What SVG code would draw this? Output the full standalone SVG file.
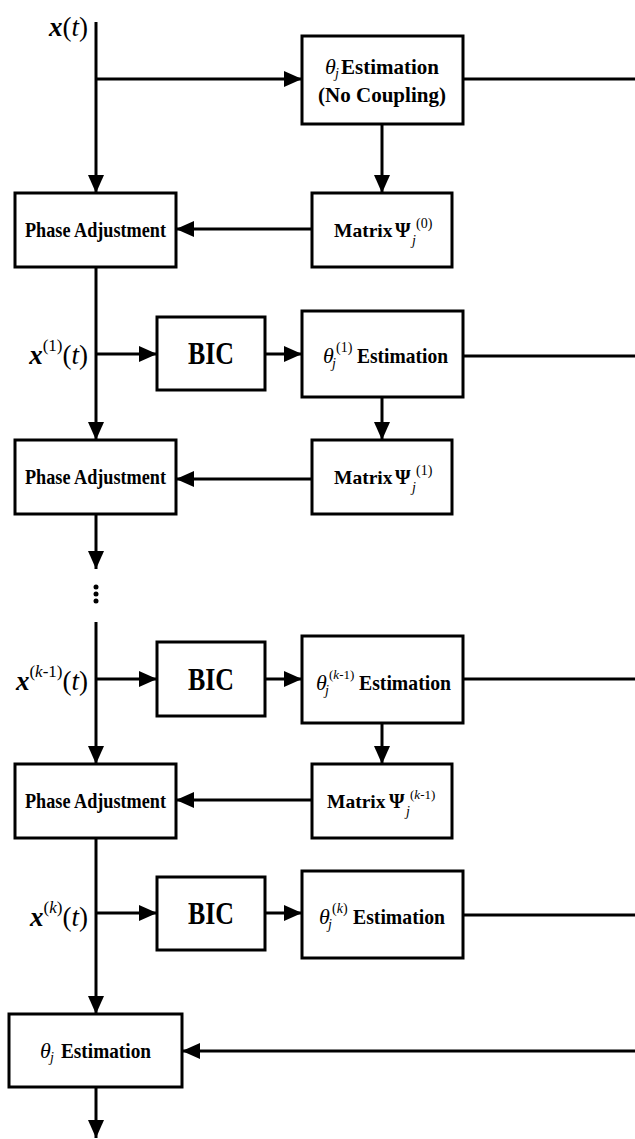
<svg xmlns="http://www.w3.org/2000/svg" width="635" height="1139" viewBox="0 0 635 1139">
<style>
.box{fill:#fff;stroke:#000;stroke-width:3}
.ln{fill:none;stroke:#000;stroke-width:3}
.b{font-weight:bold}
.i{font-style:italic}
.lbl{font-size:27px}
.sm{font-size:14px}
.xs{font-size:13px}
</style>
<defs>
<marker id="ah" markerUnits="userSpaceOnUse" markerWidth="18" markerHeight="16" refX="18" refY="8" orient="auto" viewBox="0 0 18 16">
<path d="M0,0 L18,8 L0,16 z" fill="#000"/>
</marker>
</defs>
<rect width="635" height="1139" fill="#fff"/>
<g id="connectors">
<path class="ln" d="M96,22 V193" marker-end="url(#ah)"/>
<path class="ln" d="M96,79 H302" marker-end="url(#ah)"/>
<path class="ln" d="M463,79 H635"/>
<path class="ln" d="M382,124 V193" marker-end="url(#ah)"/>
<path class="ln" d="M312,229 H176" marker-end="url(#ah)"/>
<path class="ln" d="M96,267 V440" marker-end="url(#ah)"/>
<path class="ln" d="M96,354 H157" marker-end="url(#ah)"/>
<path class="ln" d="M265,354 H302" marker-end="url(#ah)"/>
<path class="ln" d="M463,356 H635"/>
<path class="ln" d="M382,397 V440" marker-end="url(#ah)"/>
<path class="ln" d="M312,479 H176" marker-end="url(#ah)"/>
<path class="ln" d="M96,514 V569" marker-end="url(#ah)"/>
<circle cx="96" cy="587" r="2.5"/>
<circle cx="96" cy="594" r="2.5"/>
<circle cx="96" cy="601" r="2.5"/>
<path class="ln" d="M96,622 V764" marker-end="url(#ah)"/>
<path class="ln" d="M96,679 H157" marker-end="url(#ah)"/>
<path class="ln" d="M265,679 H302" marker-end="url(#ah)"/>
<path class="ln" d="M463,679 H635"/>
<path class="ln" d="M382,723 V764" marker-end="url(#ah)"/>
<path class="ln" d="M312,800 H176" marker-end="url(#ah)"/>
<path class="ln" d="M96,838 V1014" marker-end="url(#ah)"/>
<path class="ln" d="M96,913 H157" marker-end="url(#ah)"/>
<path class="ln" d="M265,913 H302" marker-end="url(#ah)"/>
<path class="ln" d="M463,915 H635"/>
<path class="ln" d="M635,1051 H182" marker-end="url(#ah)"/>
<path class="ln" d="M96,1087 V1138" marker-end="url(#ah)"/>
</g>
<g font-family="'Liberation Serif', 'Times New Roman', serif" fill="#000">
<g id="labels">
<text class="lbl" x="88" y="36" text-anchor="end"><tspan class="b i">x</tspan>(<tspan class="i">t</tspan>)</text>
<text class="lbl" x="88" y="364" text-anchor="end"><tspan class="b i">x</tspan><tspan font-size="17" dy="-13">(1)</tspan><tspan dy="13">(</tspan><tspan class="i">t</tspan>)</text>
<text class="lbl" x="88" y="690" text-anchor="end"><tspan class="b i">x</tspan><tspan font-size="17" dy="-13">(<tspan class="i">k</tspan>-1)</tspan><tspan dy="13">(</tspan><tspan class="i">t</tspan>)</text>
<text class="lbl" x="88" y="926" text-anchor="end"><tspan class="b i">x</tspan><tspan font-size="17" dy="-13">(<tspan class="i">k</tspan>)</tspan><tspan dy="13">(</tspan><tspan class="i">t</tspan>)</text>
</g>
<g id="n-est0">
<rect class="box" x="302" y="36" width="161" height="88"/>
<text x="325" y="74" font-size="22" class="i">θ</text>
<text x="335" y="78" class="sm i">j</text>
<text x="341" y="74" font-size="21" class="b" textLength="98" lengthAdjust="spacingAndGlyphs">Estimation</text>
<text x="382" y="102" font-size="21" class="b" text-anchor="middle">(No Coupling)</text>
</g>
<g id="n-mat0">
<rect class="box" x="312" y="193" width="140" height="74"/>
<text x="334" y="237" font-size="19.5" class="b">Matrix</text>
<text x="395" y="237" font-size="20" class="b">Ψ</text>
<text x="412" y="245" class="sm i">j</text>
<text x="416" y="228" class="sm">(0)</text>
</g>
<g id="n-pa0">
<rect class="box" x="15" y="193" width="161" height="74"/>
<text x="25" y="237" font-size="20" class="b" textLength="141" lengthAdjust="spacingAndGlyphs">Phase Adjustment</text>
</g>
<g id="n-bic1">
<rect class="box" x="157" y="317" width="108" height="73"/>
<text x="211" y="364" font-size="32" class="b" text-anchor="middle" textLength="46" lengthAdjust="spacingAndGlyphs">BIC</text>
</g>
<g id="n-est1">
<rect class="box" x="302" y="311" width="161" height="86"/>
<text x="323" y="363" font-size="22" class="i">θ</text>
<text x="332" y="368" class="sm i">j</text>
<text x="336" y="352" class="sm">(1)</text>
<text x="357" y="363" font-size="21" class="b" textLength="91" lengthAdjust="spacingAndGlyphs">Estimation</text>
</g>
<g id="n-mat1">
<rect class="box" x="312" y="440" width="140" height="74"/>
<text x="334" y="484" font-size="19.5" class="b">Matrix</text>
<text x="395" y="484" font-size="20" class="b">Ψ</text>
<text x="412" y="492" class="sm i">j</text>
<text x="416" y="475" class="sm">(1)</text>
</g>
<g id="n-pa1">
<rect class="box" x="15" y="440" width="161" height="74"/>
<text x="25" y="484" font-size="20" class="b" textLength="141" lengthAdjust="spacingAndGlyphs">Phase Adjustment</text>
</g>
<g id="n-bic2">
<rect class="box" x="157" y="642" width="108" height="74"/>
<text x="211" y="690" font-size="32" class="b" text-anchor="middle" textLength="46" lengthAdjust="spacingAndGlyphs">BIC</text>
</g>
<g id="n-est2">
<rect class="box" x="302" y="636" width="161" height="87"/>
<text x="316" y="690" font-size="22" class="i">θ</text>
<text x="325" y="695" class="sm i">j</text>
<text x="329" y="679" class="xs">(<tspan class="i">k</tspan>-1)</text>
<text x="359" y="690" font-size="21" class="b" textLength="92" lengthAdjust="spacingAndGlyphs">Estimation</text>
</g>
<g id="n-mat2">
<rect class="box" x="312" y="764" width="140" height="74"/>
<text x="327" y="808" font-size="19.5" class="b">Matrix</text>
<text x="389" y="808" font-size="20" class="b">Ψ</text>
<text x="406" y="816" class="sm i">j</text>
<text x="410" y="799" class="xs">(<tspan class="i">k</tspan>-1)</text>
</g>
<g id="n-pa2">
<rect class="box" x="15" y="764" width="161" height="74"/>
<text x="25" y="808" font-size="20" class="b" textLength="141" lengthAdjust="spacingAndGlyphs">Phase Adjustment</text>
</g>
<g id="n-bic3">
<rect class="box" x="157" y="877" width="108" height="73"/>
<text x="211" y="924" font-size="32" class="b" text-anchor="middle" textLength="46" lengthAdjust="spacingAndGlyphs">BIC</text>
</g>
<g id="n-est3">
<rect class="box" x="302" y="871" width="161" height="87"/>
<text x="319" y="924" font-size="22" class="i">θ</text>
<text x="328" y="929" class="sm i">j</text>
<text x="332" y="913" class="sm">(<tspan class="i">k</tspan>)</text>
<text x="353" y="924" font-size="21" class="b" textLength="92" lengthAdjust="spacingAndGlyphs">Estimation</text>
</g>
<g id="n-final">
<rect class="box" x="9" y="1014" width="173" height="73"/>
<text x="40" y="1058" font-size="22" class="i">θ</text>
<text x="50" y="1062" class="sm i">j</text>
<text x="61" y="1058" font-size="21" class="b" textLength="90" lengthAdjust="spacingAndGlyphs">Estimation</text>
</g>
</g>
</svg>
